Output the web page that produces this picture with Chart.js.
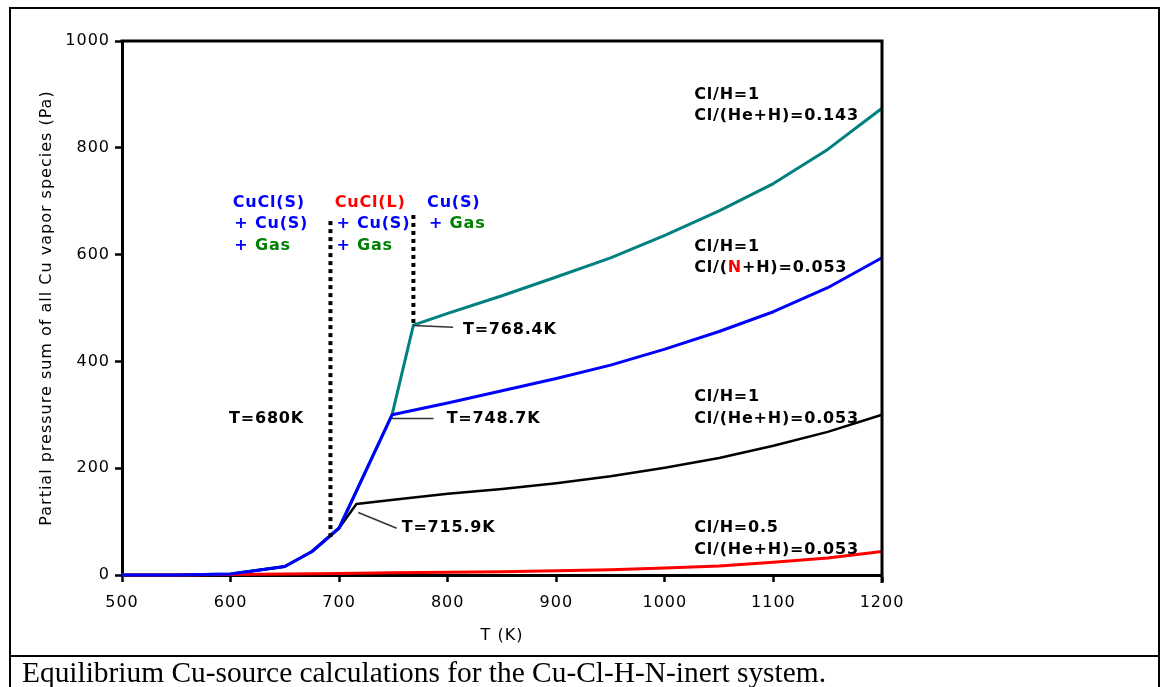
<!DOCTYPE html>
<html>
<head>
<meta charset="utf-8">
<script src="https://cdn.jsdelivr.net/npm/chart.js@4.4.1/dist/chart.umd.min.js"></script>
<style>
  body { margin: 0; background: #fff; width: 1162px; height: 687px; overflow: hidden; position: relative; }
  #chart { position: absolute; left: 0; top: 0; }
  .box { position: absolute; box-sizing: border-box; border: 2px solid #000; }
  #cap { position: absolute; left: 22px; top: 658px; font: 29.4px/29px "Liberation Serif", "Times New Roman", serif; white-space: nowrap; }
</style>
</head>
<body>
<canvas id="chart" width="1162" height="687"></canvas>
<div class="box" style="left:9px;top:7px;width:1151px;height:650px"></div>
<div class="box" style="left:9px;top:655px;width:1151px;height:40px;border-bottom:none"></div>
<div id="cap">Equilibrium Cu-source calculations for the Cu-Cl-H-N-inert system.</div>
<script>
// values: T in K, pressure in Pa
const tLow = [500, 550, 600, 650, 675, 700];
const pLow = [0, 0, 2, 16, 44, 88];

const tTeal = [...tLow, 748.7, 768.4, 800, 850, 900, 950, 1000, 1050, 1100, 1150, 1200];
const pTeal = [...pLow, 300, 468, 490, 523, 558, 594, 636, 682, 733, 797, 874];

const tBlue = [...tLow, 748.7, 800, 850, 900, 950, 1000, 1050, 1100, 1150, 1200];
const pBlue = [...pLow, 300, 322, 345, 368, 393, 423, 456, 493, 538, 594];

const tBlack = [...tLow, 715.9, 750, 800, 850, 900, 950, 1000, 1050, 1100, 1150, 1200];
const pBlack = [...pLow, 133, 141, 152, 161, 172, 185, 201, 219, 242, 268, 300];

const tRed = [500, 550, 600, 650, 700, 750, 800, 850, 900, 950, 1000, 1050, 1100, 1150, 1200];
const pRed = [0, 0, 1, 2, 3, 4, 5, 6, 8, 10, 13, 17, 24, 32, 44];

// phase boundaries (dotted)
const tDot1 = [692, 692];
const pDot1 = [71, 669];
const tDot2 = [768.4, 768.4];
const pDot2 = [472, 678];

const xTicks = [500, 600, 700, 800, 900, 1000, 1100, 1200];
const yTicks = [0, 200, 400, 600, 800, 1000];

const BLUE = '#0000ff', GREEN = '#008000', RED = '#ff0000', BLK = '#000000';

// text notes in data coordinates
const notes = [
  { x: 602, y: 697, parts: [['CuCl(S)', BLUE]] },
  { x: 603.5, y: 657, parts: [['+ Cu(S)', BLUE]] },
  { x: 603.5, y: 616, parts: [['+ ', BLUE], ['Gas', GREEN]] },
  { x: 696, y: 697, parts: [['CuCl(L)', RED]] },
  { x: 697.5, y: 657, parts: [['+ Cu(S)', BLUE]] },
  { x: 697.5, y: 616, parts: [['+ ', BLUE], ['Gas', GREEN]] },
  { x: 781, y: 697, parts: [['Cu(S)', BLUE]] },
  { x: 782.8, y: 657, parts: [['+ ', BLUE], ['Gas', GREEN]] },
  { x: 1027, y: 899, parts: [['Cl/H=1', BLK]] },
  { x: 1027, y: 859, parts: [['Cl/(He+H)=0.143', BLK]] },
  { x: 1027, y: 615, parts: [['Cl/H=1', BLK]] },
  { x: 1027, y: 575, parts: [['Cl/(', BLK], ['N', RED], ['+H)=0.053', BLK]] },
  { x: 1027, y: 333, parts: [['Cl/H=1', BLK]] },
  { x: 1027, y: 292, parts: [['Cl/(He+H)=0.053', BLK]] },
  { x: 1027, y: 88, parts: [['Cl/H=0.5', BLK]] },
  { x: 1027, y: 47, parts: [['Cl/(He+H)=0.053', BLK]] },
  { x: 814, y: 459, parts: [['T=768.4K', BLK]] },
  { x: 799, y: 292, parts: [['T=748.7K', BLK]] },
  { x: 757.6, y: 88, parts: [['T=715.9K', BLK]] },
  { x: 598.6, y: 292, parts: [['T=680K', BLK]] }
];
const leaders = [
  [768.4, 467, 805, 464],
  [748.7, 293, 787, 293],
  [717.6, 117, 753, 87.5]
];

function pts(xs, ys) { return xs.map((x, i) => ({ x: x, y: ys[i] })); }

function line(label, xs, ys, color, width, order, dash) {
  return {
    label: label,
    data: pts(xs, ys),
    borderColor: color,
    backgroundColor: color,
    borderWidth: width,
    borderDash: dash || [],
    borderJoinStyle: 'round',
    pointRadius: 0,
    tension: 0,
    clip: 6,
    order: order
  };
}

const spacing = {
  id: 'spacing',
  beforeDraw(chart) { chart.ctx.letterSpacing = '1px'; },
  beforeDatasetsDraw(chart) { chart.ctx.letterSpacing = '0px'; }
};

const frame = {
  id: 'frame',
  afterDraw(chart) {
    const { ctx, chartArea: a } = chart;
    ctx.save();
    ctx.strokeStyle = '#000';
    ctx.lineWidth = 3;
    ctx.beginPath();
    ctx.moveTo(a.left - 1.5, a.top);
    ctx.lineTo(a.right, a.top);
    ctx.lineTo(a.right, a.bottom + 8);
    ctx.stroke();
    ctx.restore();
  }
};

const notesPlugin = {
  id: 'notes',
  afterDraw(chart) {
    const ctx = chart.ctx;
    const xs = chart.scales.x, ys = chart.scales.y;
    ctx.save();
    ctx.strokeStyle = '#333';
    ctx.lineWidth = 1.5;
    leaders.forEach(l => {
      ctx.beginPath();
      ctx.moveTo(xs.getPixelForValue(l[0]), ys.getPixelForValue(l[1]));
      ctx.lineTo(xs.getPixelForValue(l[2]), ys.getPixelForValue(l[3]));
      ctx.stroke();
    });
    ctx.font = 'bold 16px "DejaVu Sans", Verdana, sans-serif';
    ctx.letterSpacing = '0.8px';
    ctx.textBaseline = 'middle';
    ctx.textAlign = 'left';
    notes.forEach(n => {
      let px = xs.getPixelForValue(n.x);
      const py = ys.getPixelForValue(n.y);
      n.parts.forEach(p => {
        ctx.fillStyle = p[1];
        ctx.fillText(p[0], px, py);
        px += ctx.measureText(p[0]).width;
      });
    });
    ctx.restore();
  }
};

const tickFont = { family: '"DejaVu Sans", Verdana, sans-serif', size: 16 };

new Chart(document.getElementById('chart'), {
  type: 'line',
  data: {
    datasets: [
      line('Cl/H=1, Cl/(He+H)=0.143', tTeal, pTeal, '#008080', 3, 5),
      line('Cl/H=1, Cl/(N+H)=0.053', tBlue, pBlue, BLUE, 3, 2),
      line('Cl/H=1, Cl/(He+H)=0.053', tBlack, pBlack, BLK, 2.5, 4),
      line('Cl/H=0.5, Cl/(He+H)=0.053', tRed, pRed, RED, 3, 3),
      line('680K', tDot1, pDot1, BLK, 4, 1, [4, 4]),
      line('768.4K', tDot2, pDot2, BLK, 4, 1, [4, 4])
    ]
  },
  options: {
    responsive: false,
    animation: false,
    devicePixelRatio: 1,
    layout: { padding: { left: 0, top: 41, right: 280, bottom: 32 } },
    plugins: { legend: { display: false }, tooltip: { enabled: false } },
    scales: {
      x: {
        type: 'linear',
        min: 500,
        max: 1200,
        afterBuildTicks: s => { s.ticks = xTicks.map(v => ({ value: v })); },
        afterFit: s => { s.height = 80; },
        grid: { display: true, drawOnChartArea: false, drawTicks: true, tickLength: 7, tickWidth: 2.5, tickColor: '#000' },
        border: { color: '#000', width: 3 },
        ticks: { color: '#000', font: tickFont, padding: 11, maxRotation: 0, callback: v => String(v) },
        title: { display: true, text: 'T (K)', color: '#000', font: tickFont, padding: { top: 0, bottom: 10 } }
      },
      y: {
        type: 'linear',
        min: 0,
        max: 1000,
        afterBuildTicks: s => { s.ticks = yTicks.map(v => ({ value: v })); },
        afterFit: s => { s.width = 122; },
        grid: { display: true, drawOnChartArea: false, drawTicks: true, tickLength: 7, tickWidth: 2.5, tickColor: '#000' },
        border: { color: '#000', width: 3 },
        ticks: { color: '#000', font: tickFont, padding: 5, callback: v => String(v) },
        title: { display: true, text: 'Partial pressure sum of all Cu vapor species (Pa)', color: '#000', font: tickFont, padding: { top: 37, bottom: 0 } }
      }
    }
  },
  plugins: [spacing, frame, notesPlugin]
});
</script>
</body>
</html>
